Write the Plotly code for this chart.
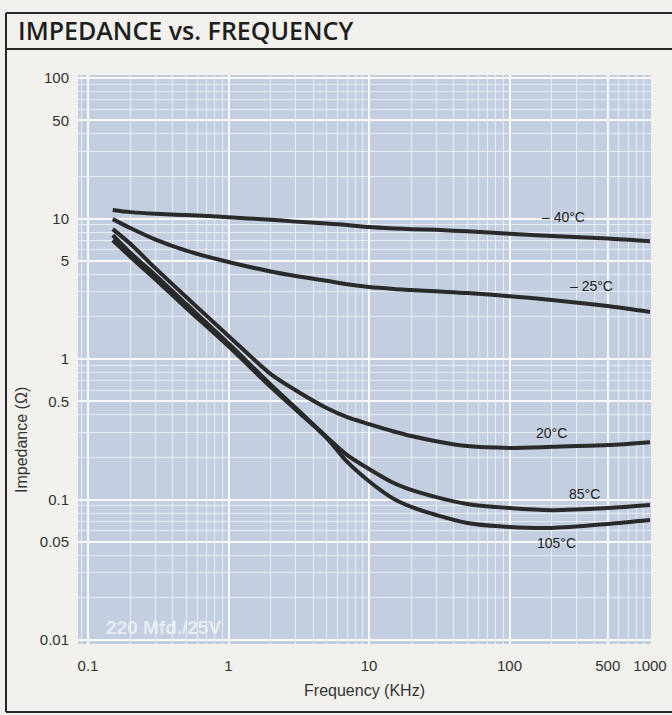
import plotly.graph_objects as go

# ---------------- data ----------------
freq_khz = [0.15, 0.2, 0.3, 0.5, 1, 2, 3, 5, 7, 10, 15, 20, 30, 50, 100, 200, 500, 1000]

z_m40 = [11.5, 11.1, 10.8, 10.6, 10.2, 9.8, 9.5, 9.2, 9.0, 8.7, 8.5, 8.4, 8.3, 8.1, 7.8, 7.5, 7.2, 6.9]
z_m25 = [9.9, 8.55, 7.1, 5.9, 4.9, 4.2, 3.9, 3.6, 3.4, 3.25, 3.15, 3.1, 3.03, 2.95, 2.8, 2.63, 2.38, 2.16]
z_20 = [8.4, 6.6, 4.45, 2.76, 1.46, 0.78, 0.60, 0.448, 0.385, 0.344, 0.305, 0.283, 0.26, 0.240, 0.233, 0.237, 0.244, 0.256]
z_85 = [7.6, 5.7, 3.97, 2.46, 1.29, 0.657, 0.450, 0.279, 0.207, 0.165, 0.131, 0.117, 0.104, 0.093, 0.087, 0.084, 0.087, 0.0914]
z_105 = [7.0, 5.35, 3.71, 2.31, 1.23, 0.632, 0.437, 0.274, 0.185, 0.135, 0.101, 0.0885, 0.0776, 0.068, 0.0637, 0.0627, 0.067, 0.0715]

series_names = ["– 40°C", "– 25°C", "20°C", "85°C", "105°C"]
series_values = [z_m40, z_m25, z_20, z_85, z_105]

x_tick_vals = [0.1, 1, 10, 100, 500, 1000]
x_tick_text = ["0.1", "1", "10", "100", "500", "1000"]
y_tick_vals = [0.01, 0.05, 0.1, 0.5, 1, 5, 10, 50, 100]
y_tick_text = ["0.01", "0.05", "0.1", "0.5", "1", "5", "10", "50", "100"]

# label anchor points (log10 freq, log10 impedance)
label_pos = [(2.381, 1.011), (2.587, 0.520), (2.302, -0.527), (2.537, -0.961), (2.338, -1.310)]

# ---------------- layout geometry ----------------
W, H = 672, 715
L, R, T, B = 78, 651, 75, 644
pw, ph = R - L, B - T
PAPER = "#f2f1ed"


def px(x):
    return (x - L) / pw


def py(y):
    return (B - y) / ph


LINE = "#2a2a2a"
fig = go.Figure()
for name, vals in zip(series_names, series_values):
    fig.add_trace(go.Scatter(
        x=freq_khz, y=vals, mode="lines", name=name,
        line=dict(color=LINE, width=4, shape="spline", smoothing=0.8),
        showlegend=False, hoverinfo="skip"))

for name, (lx, ly) in zip(series_names, label_pos):
    fig.add_annotation(x=lx, y=ly, xref="x", yref="y", text=name, showarrow=False,
                       font=dict(family="Liberation Sans, Arial", size=14, color="#222"))

fig.add_annotation(x=px(104), y=py(627), xref="paper", yref="paper", text="220 Mfd./25V",
                   showarrow=False, xanchor="left", yanchor="middle",
                   font=dict(family="Liberation Sans, Arial", size=19, weight=700,
                             color="rgba(255,255,255,0.6)"))

fig.add_annotation(x=px(22), y=py(440), xref="paper", yref="paper", text="Impedance (Ω)",
                   showarrow=False, textangle=-90, xanchor="center", yanchor="middle",
                   font=dict(family="Liberation Sans, Arial", size=16, color="#333"))

frame = dict(color="#262626", width=2)
fig.add_shape(type="line", xref="paper", yref="paper", x0=px(6), x1=px(690), y0=py(13), y1=py(13), line=frame)
fig.add_shape(type="line", xref="paper", yref="paper", x0=px(6), x1=px(690), y0=py(49), y1=py(49), line=frame)
fig.add_shape(type="line", xref="paper", yref="paper", x0=px(6), x1=px(690), y0=py(712), y1=py(712), line=frame)
fig.add_shape(type="line", xref="paper", yref="paper", x0=px(6), x1=px(6), y0=py(13), y1=py(712), line=frame)

grid_major = "rgba(255,255,255,0.85)"
grid_minor = "rgba(255,255,255,0.6)"
tickfont = dict(family="Liberation Sans, Arial", size=15, color="#333")

fig.update_xaxes(type="log", range=[-1 - 10 / 140.5, 3 + 1 / 140.5], automargin=False,
                 tickvals=x_tick_vals, ticktext=x_tick_text, tickfont=tickfont,
                 showgrid=True, gridcolor=grid_major, gridwidth=1.5,
                 minor=dict(showgrid=True, gridcolor=grid_minor, gridwidth=1, dtick="D1"),
                 showline=False, zeroline=False, ticks="", ticklabelstandoff=11,
                 title=dict(text="Frequency (KHz)", standoff=11,
                            font=dict(family="Liberation Sans, Arial", size=16, color="#333")))
fig.update_yaxes(type="log", range=[2 - 566 / 140.5, 2 + 3 / 140.5], automargin=False,
                 tickvals=y_tick_vals, ticktext=y_tick_text, tickfont=tickfont,
                 showgrid=True, gridcolor=grid_major, gridwidth=1.5,
                 minor=dict(showgrid=True, gridcolor=grid_minor, gridwidth=1, dtick="D1"),
                 showline=False, zeroline=False, ticks="", ticklabelstandoff=8)

fig.update_layout(
    width=W, height=H,
    margin=dict(l=L, r=W - R, t=T, b=H - B, autoexpand=False),
    paper_bgcolor=PAPER, plot_bgcolor="#c3cee0",
    title=dict(text="IMPEDANCE vs. FREQUENCY", x=18 / W, y=1 - 31 / H,
               xanchor="left", yanchor="middle", xref="container", yref="container",
               font=dict(family="Open Sans", size=25, color="#1e1e1e", weight=600)),
)

fig.write_html(
    "out.html",
    config={"displayModeBar": False},
    post_script="document.body.style.margin='0';document.body.style.background='" + PAPER + "';",
)
